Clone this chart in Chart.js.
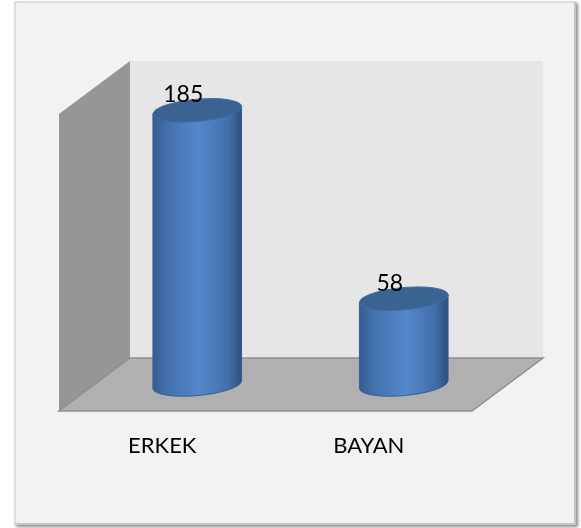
<!DOCTYPE html>
<html>
<head>
<meta charset="utf-8">
<script src="https://cdn.jsdelivr.net/npm/chart.js@4"></script>
<style>
  html, body { margin: 0; background: #fff; }
  #kart { position: absolute; left: 14px; top: 1px; width: 558px; height: 520px; background: #f2f2f2;
          border: 2px solid #dedede; border-right-color: #c4c4c4; border-bottom-color: #c4c4c4;
          box-shadow: 2px 2px 3px #8c8c8c; }
  #grafik { position: absolute; left: 0; top: 0; }
</style>
</head>
<body>
<div id="kart"></div>
<canvas id="grafik" width="581" height="528"></canvas>
<script>
const kategoriler = ['ERKEK', 'BAYAN'];
const degerler = [185, 58];

// duvarlar ve zemin, grafik alaninin arkasina
const kutu3d = {
  id: 'kutu3d',
  beforeDatasetsDraw(chart) {
    const c = chart.ctx;
    const poly = (pts, fill, stroke) => {
      c.beginPath();
      pts.forEach((p, i) => i ? c.lineTo(p[0], p[1]) : c.moveTo(p[0], p[1]));
      c.closePath();
      c.fillStyle = fill;
      c.fill();
      if (stroke) { c.strokeStyle = stroke; c.lineWidth = 1.5; c.stroke(); }
    };
    poly([[130, 61], [543, 61], [543, 358], [130, 358]], '#e6e6e6');
    poly([[59, 114], [130, 61], [130, 358], [59, 411]], '#969696');
    poly([[130, 358], [543, 358], [472, 411], [59, 411]], '#b0b0b0', '#909090');
  }
};

// silindirler: konum ve boyut Chart.js bar elemanlarindan geliyor
const silindir = {
  id: 'silindir',
  afterDatasetsDraw(chart) {
    const c = chart.ctx;
    const taban = chart.scales.y.getPixelForValue(0);
    chart.getDatasetMeta(0).data.forEach((bar, i) => {
      const rx = bar.width / 2, ry = 11, egim = -0.09;
      const sol = bar.x - rx, sag = bar.x + rx;
      const g = c.createLinearGradient(sol, 0, sag, 0);
      g.addColorStop(0, '#345d8f');
      g.addColorStop(0.14, '#416fa9');
      g.addColorStop(0.52, '#5488cc');
      g.addColorStop(0.85, '#436fa8');
      g.addColorStop(1, '#2c4f7c');

      c.beginPath();
      c.ellipse(bar.x, taban, rx, ry, egim, 0, Math.PI);
      c.ellipse(bar.x, bar.y, rx, ry, egim, Math.PI, 0, true);
      c.closePath();
      c.fillStyle = g;
      c.fill();
      c.strokeStyle = '#35618f';
      c.lineWidth = 1;
      c.stroke();

      c.beginPath();
      c.ellipse(bar.x, bar.y, rx, ry, egim, 0, Math.PI * 2);
      c.fillStyle = '#3b6391';
      c.fill();
      c.strokeStyle = '#3f6ca6';
      c.stroke();

      c.fillStyle = '#000';
      c.font = '23px Lato';
      c.textAlign = 'center';
      c.textBaseline = 'alphabetic';
      c.fillText(degerler[i], bar.x - 14, bar.y - 8);
    });
  }
};

new Chart(document.getElementById('grafik'), {
  type: 'bar',
  data: {
    labels: kategoriler,
    datasets: [{
      data: degerler,
      backgroundColor: 'rgba(0,0,0,0)',
      barPercentage: 0.431,
      categoryPercentage: 1
    }]
  },
  options: {
    responsive: false,
    animation: false,
    layout: { padding: { left: 94, right: 74, top: 88, bottom: 29 } },
    plugins: { legend: { display: false }, tooltip: { enabled: false } },
    scales: {
      x: {
        grid: { display: false },
        border: { display: false },
        ticks: { color: '#000', font: { family: 'Lato', size: 22 }, labelOffset: -35, padding: 40, maxRotation: 0 }
      },
      y: { display: false, min: 0, max: 200 }
    }
  },
  plugins: [kutu3d, silindir]
});
</script>
</body>
</html>
